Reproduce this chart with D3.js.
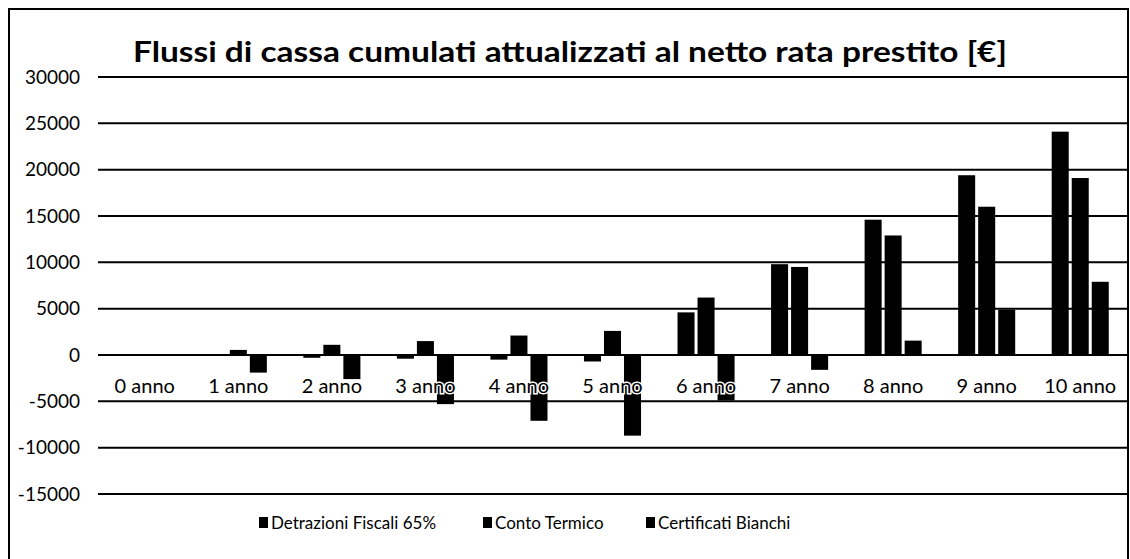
<!DOCTYPE html>
<html lang="it">
<head>
    <meta charset="UTF-8">
    <title>Flussi di cassa</title>
    <style>
        body { margin: 0; background: #fff; }
        text { font-family: Lato, "Open Sans", sans-serif; fill: #000; }
    </style>
</head>
<body>
<script src="https://d3js.org/d3.v7.min.js"></script>
<script>
    const W = 1130, H = 559;

    // dati
    const anni = ["0 anno", "1 anno", "2 anno", "3 anno", "4 anno", "5 anno",
        "6 anno", "7 anno", "8 anno", "9 anno", "10 anno"];
    const serie = ["Detrazioni Fiscali 65%", "Conto Termico", "Certificati Bianchi"];
    const detrazioni = [0, -100, -300, -400, -500, -700, 4600, 9800, 14600, 19400, 24100];
    const contoTermico = [0, 550, 1100, 1500, 2100, 2600, 6200, 9500, 12900, 16000, 19100];
    const certificati = [0, -1900, -2600, -5300, -7100, -8700, -4900, -1600, 1550, 4900, 7900];
    const yTicks = [-15000, -10000, -5000, 0, 5000, 10000, 15000, 20000, 25000, 30000];

    const valori = [detrazioni, contoTermico, certificati];

    let svg = d3.select("body")
        .append("svg")
        .attr("width", W)
        .attr("height", H);

    // cornice
    svg.append("rect")
        .attr("x", 9).attr("y", 9)
        .attr("width", 1119).attr("height", 570)
        .attr("fill", "none")
        .attr("stroke", "#000")
        .attr("stroke-width", 2);

    let x = d3.scaleBand()
        .domain(anni)
        .range([98, 1127])
        .paddingInner(0.39)
        .paddingOuter(0.195);

    let xs = d3.scaleBand()
        .domain(serie)
        .range([0, x.bandwidth()])
        .paddingInner(0.15);

    let y = d3.scaleLinear()
        .domain([-15000, 30000])
        .range([494, 77]);

    // griglia
    svg.append("g")
        .selectAll("line")
        .data(yTicks)
        .enter()
        .append("line")
        .attr("x1", 98)
        .attr("x2", 1127)
        .attr("y1", d => y(d))
        .attr("y2", d => y(d))
        .attr("stroke", "#000")
        .attr("stroke-width", 2);

    // etichette asse y
    svg.append("g")
        .selectAll("text")
        .data(yTicks)
        .enter()
        .append("text")
        .attr("x", 80)
        .attr("y", d => y(d))
        .attr("dy", "0.35em")
        .attr("text-anchor", "end")
        .style("font-size", "19px")
        .text(d => d);

    // barre
    let gruppi = svg.append("g")
        .selectAll("g")
        .data(anni)
        .enter()
        .append("g")
        .attr("transform", d => "translate(" + x(d) + ",0)");

    gruppi.selectAll("rect")
        .data((d, i) => serie.map((s, k) => ({serie: s, v: valori[k][i]})))
        .enter()
        .append("rect")
        .attr("x", d => xs(d.serie))
        .attr("width", xs.bandwidth())
        .attr("y", d => y(Math.max(0, d.v)))
        .attr("height", d => Math.abs(y(d.v) - y(0)))
        .attr("fill", "#000");

    // etichette categorie (sopra le barre, con alone bianco)
    svg.append("g")
        .selectAll("text")
        .data(anni)
        .enter()
        .append("text")
        .attr("x", d => x(d) + x.bandwidth() / 2)
        .attr("y", 393)
        .attr("text-anchor", "middle")
        .style("font-size", "20px")
        .style("stroke", "#fff")
        .style("stroke-width", "3px")
        .style("paint-order", "stroke")
        .text(d => d);

    // titolo
    svg.append("text")
        .attr("x", 570)
        .attr("y", 62)
        .attr("text-anchor", "middle")
        .attr("textLength", 874)
        .attr("lengthAdjust", "spacingAndGlyphs")
        .style("font-size", "29px")
        .style("font-weight", "bold")
        .text("Flussi di cassa cumulati attualizzati al netto rata prestito [€]");

    // legenda
    const legX = [259, 483, 646];
    let leg = svg.append("g")
        .selectAll("g")
        .data(serie)
        .enter()
        .append("g")
        .attr("transform", (d, i) => "translate(" + legX[i] + ",523)");

    leg.append("rect")
        .attr("x", 0).attr("y", -6)
        .attr("width", 9).attr("height", 11)
        .attr("fill", "#000");

    leg.append("text")
        .attr("x", 12)
        .attr("dy", "0.35em")
        .style("font-size", "17px")
        .text(d => d);
</script>
</body>
</html>
